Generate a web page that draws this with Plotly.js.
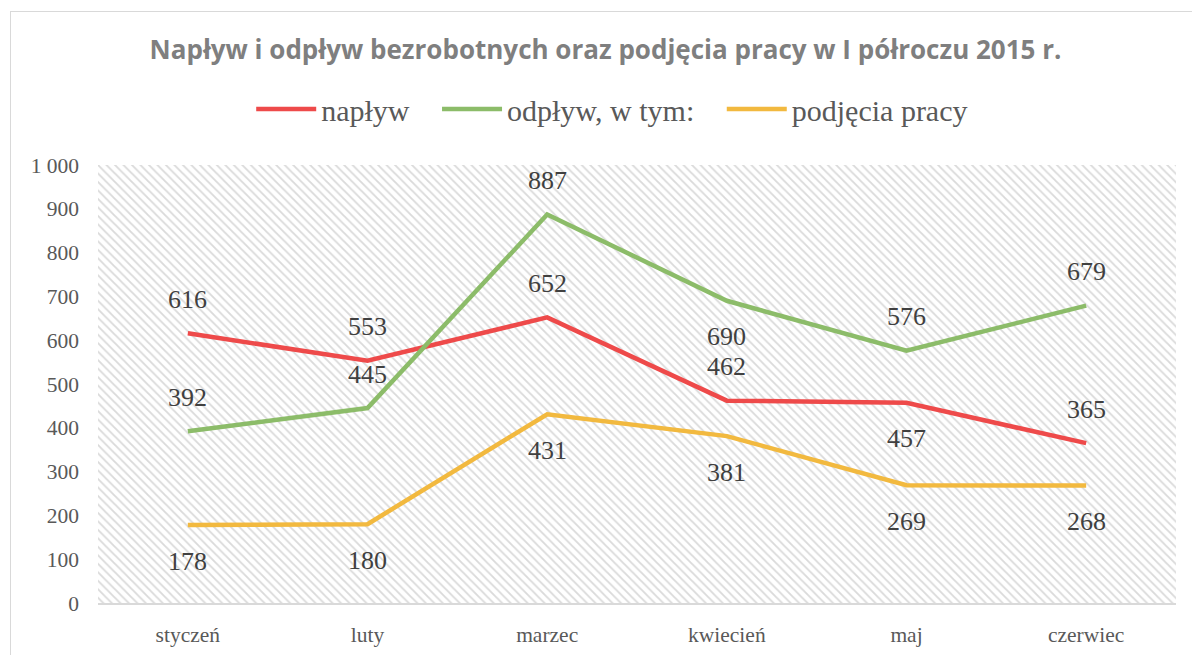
<!DOCTYPE html>
<html>
<head>
<meta charset="utf-8">
<script src="https://cdn.plot.ly/plotly-3.0.1.min.js"></script>
<style>
  html, body { margin: 0; padding: 0; overflow: hidden; background: #fff; width: 1192px; height: 655px; }
  #chart { position: absolute; left: 0; top: 0; width: 1192px; height: 655px; }
  #frame { position: absolute; left: 10px; top: 11px; width: 1300px; height: 800px; border: 1px solid #d9d9d9; pointer-events: none; }
</style>
</head>
<body>
<div id="chart"></div>
<div id="frame"></div>
<script>
const months = ["styczeń", "luty", "marzec", "kwiecień", "maj", "czerwiec"];
const naplyw = [616, 553, 652, 462, 457, 365];
const odplyw = [392, 445, 887, 690, 576, 679];
const podjecia = [178, 180, 431, 381, 269, 268];
const naplywLabelPos = ["above", "above", "above", "above", "below", "above"];
const odplywLabelPos = ["above", "above", "above", "below", "above", "above"];
const podjeciaLabelPos = ["below", "below", "below", "below", "below", "below"];
const seriesNames = ["napływ", "odpływ, w tym:", "podjęcia pracy"];
const colors = ["#EE4A4A", "#8CBC69", "#F2B93F"];
const titleText = "Napływ i odpływ bezrobotnych oraz podjęcia pracy w I półroczu 2015 r.";

const serif = "'Liberation Serif', 'Times New Roman', serif";
const labelColor = "#404040";

// hatched background of the plot area (main subplot, drawn below the overlay)
const traces = [
  {
    x: [0, 1, 1, 0], y: [0, 0, 1, 1],
    xaxis: "x", yaxis: "y",
    type: "scatter", mode: "none", fill: "toself",
    fillcolor: "#ffffff",
    fillpattern: { shape: "\\", fgcolor: "#dadada", bgcolor: "#ffffff", size: 6, solidity: 0.3 },
    hoverinfo: "skip", showlegend: false
  }
];
const allSeries = [naplyw, odplyw, podjecia];
allSeries.forEach((vals, i) => {
  traces.push({
    x: months, y: vals, type: "scatter", mode: "lines",
    xaxis: "x2", yaxis: "y2",
    name: seriesNames[i] + (i < 2 ? "\u00a0\u00a0\u00a0" : ""),
    line: { color: colors[i], width: 4.5 },
    hoverinfo: "skip"
  });
});

const annotations = [];
const positions = [naplywLabelPos, odplywLabelPos, podjeciaLabelPos];
allSeries.forEach((vals, i) => {
  vals.forEach((v, j) => {
    annotations.push({
      x: months[j], y: v, xref: "x2", yref: "y2",
      text: String(v), showarrow: false,
      yshift: positions[i][j] === "above" ? 34 : -36,
      font: { family: serif, size: 26, color: labelColor }
    });
  });
});

const layout = {
  width: 1192, height: 655,
  margin: { l: 98, r: 16, t: 165, b: 52, autoexpand: false },
  paper_bgcolor: "rgba(0,0,0,0)",
  plot_bgcolor: "rgba(0,0,0,0)",
  separators: ", ",
  title: {
    text: "<b>" + titleText + "</b>",
    x: 0.508, xref: "container", xanchor: "center",
    y: 0.924, yref: "container", yanchor: "middle",
    font: { family: "'Open Sans', 'DejaVu Sans', sans-serif", size: 26, color: "#7f7f7f" }
  },
  showlegend: true,
  legend: {
    orientation: "h",
    x: 0.477, xanchor: "center", xref: "paper",
    y: 1.128, yref: "paper", yanchor: "middle",
    font: { family: serif, size: 30, color: "#595959" },
    itemwidth: 60,
    traceorder: "normal",
    bgcolor: "rgba(0,0,0,0)"
  },
  xaxis: { range: [0, 1], visible: false, fixedrange: true },
  yaxis: { range: [0, 1], visible: false, fixedrange: true },
  xaxis2: {
    type: "category",
    overlaying: "x",
    range: [-0.5, 5.5],
    tickson: "boundaries",
    showgrid: true, gridcolor: "#dedede", gridwidth: 1.5,
    zeroline: false,
    showline: true, linecolor: "#d9d9d9", linewidth: 2,
    ticks: "", ticklen: 0,
    tickfont: { family: serif, size: 21.5, color: "#595959" },
    ticklabelstandoff: 11,
    fixedrange: true
  },
  yaxis2: {
    overlaying: "y",
    range: [0, 1000],
    dtick: 100, tick0: 0,
    separatethousands: true,
    showgrid: true, gridcolor: "#dedede", gridwidth: 1.5,
    zeroline: false,
    showline: false,
    ticks: "",
    tickfont: { family: serif, size: 21.5, color: "#595959" },
    ticklabelstandoff: 18,
    fixedrange: true
  },
  annotations: annotations
};

Plotly.newPlot("chart", traces, layout, { displayModeBar: false, staticPlot: true });
</script>
</body>
</html>
